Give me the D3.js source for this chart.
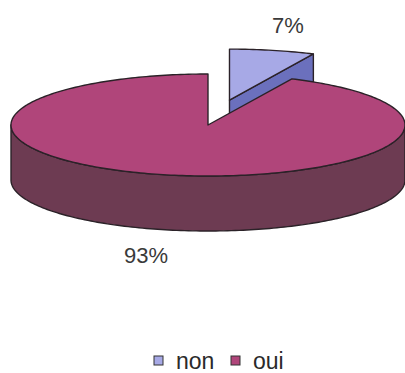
<!DOCTYPE html>
<html>
<head>
<meta charset="utf-8">
<script src="https://cdn.jsdelivr.net/npm/d3@7"></script>
<style>
  html, body { margin: 0; padding: 0; background: #fff; }
  svg { display: block; }
</style>
</head>
<body>
<svg id="chart" width="405" height="373"></svg>
<script>
// Réponses : part de « non » et de « oui »
const categories = ["non", "oui"];
const values = [7, 93];
const labels = ["7%", "93%"];

const cx = 208, cy = 125;   // centre of the top face
const rx = 197, ry = 51;    // ellipse radii of the tilted disc
const depth = 55;           // thickness of the disc
const explode = 0.5;        // the "non" slice is pulled out

const topColor  = d3.scaleOrdinal().domain(categories).range(["#a7a9e6", "#b0457a"]);
const sideColor = d3.scaleOrdinal().domain(categories).range(["#6b70bd", "#6d3b52"]);
const stroke = "#2b2228";

const svg = d3.select("#chart");

const pie = d3.pie().sort(null).value(d => d.value);
const arcs = pie(categories.map((c, i) => ({ cat: c, value: values[i], label: labels[i] })));

// project a point given clock angle (0 = 12 o'clock, clockwise), radius fraction and height offset
function pt(a, r, h, off) {
  return [cx + off[0] + r * rx * Math.sin(a), cy + off[1] - r * ry * Math.cos(a) + h];
}
function offsetOf(d) {
  if (d.data.cat !== "non") return [0, 0];
  const m = (d.startAngle + d.endAngle) / 2;
  return [explode * rx * Math.sin(m), -explode * ry * Math.cos(m)];
}
function arcPts(a0, a1, h, off) {
  const n = Math.max(2, Math.ceil(Math.abs(a1 - a0) / 0.02));
  return d3.range(n + 1).map(i => pt(a0 + (a1 - a0) * i / n, 1, h, off));
}
const line = d3.line();

function topPath(d) {
  const off = offsetOf(d);
  const p = [pt(0, 0, 0, off)].concat(arcPts(d.startAngle, d.endAngle, 0, off));
  return line(p) + "Z";
}
// visible outer wall: the front half, between 90° and 270°
function outerPath(d) {
  const off = offsetOf(d);
  const a0 = Math.max(d.startAngle, Math.PI / 2), a1 = Math.min(d.endAngle, 3 * Math.PI / 2);
  if (a1 <= a0) return null;
  const up = arcPts(a0, a1, 0, off), down = arcPts(a1, a0, depth, off);
  return line(up.concat(down)) + "Z";
}
// radial wall at the closing edge of a slice
function endFacePath(d) {
  const off = offsetOf(d);
  const a = d.endAngle;
  return line([pt(a, 0, 0, off), pt(a, 1, 0, off), pt(a, 1, depth, off), pt(a, 0, depth, off)]) + "Z";
}

const g = svg.append("g").attr("stroke", stroke).attr("stroke-width", 1.4).attr("stroke-linejoin", "round");

// the pulled-out slice sits behind the disc, so it goes down first
const non = arcs.find(d => d.data.cat === "non");
const oui = arcs.find(d => d.data.cat === "oui");

g.append("path").attr("d", endFacePath(non)).attr("fill", sideColor("non"));
g.append("path").attr("d", topPath(non)).attr("fill", topColor("non"));

g.append("path").attr("d", outerPath(oui)).attr("fill", sideColor("oui"));
g.append("path").attr("d", topPath(oui)).attr("fill", topColor("oui"));

// percentage labels
const lbl = svg.append("g")
  .attr("font-family", "Liberation Sans, Arial, sans-serif")
  .attr("font-size", 22)
  .attr("fill", "#3a3a3a")
  .attr("text-anchor", "middle");
lbl.append("text").attr("x", 288).attr("y", 33).text(non.data.label);
lbl.append("text").attr("x", 146).attr("y", 263).text(oui.data.label);

// legend
const legend = svg.append("g")
  .attr("font-family", "Liberation Sans, Arial, sans-serif")
  .attr("font-size", 23)
  .attr("fill", "#2a2a2a");
const legX = d3.scalePoint().domain(categories).range([154, 231]);
categories.forEach(c => {
  const x = legX(c);
  legend.append("rect").attr("x", x).attr("y", 356).attr("width", 9).attr("height", 9)
    .attr("fill", topColor(c)).attr("stroke", "#333").attr("stroke-width", 1);
  legend.append("text").attr("x", x + 22).attr("y", 369).text(c);
});
</script>
</body>
</html>
